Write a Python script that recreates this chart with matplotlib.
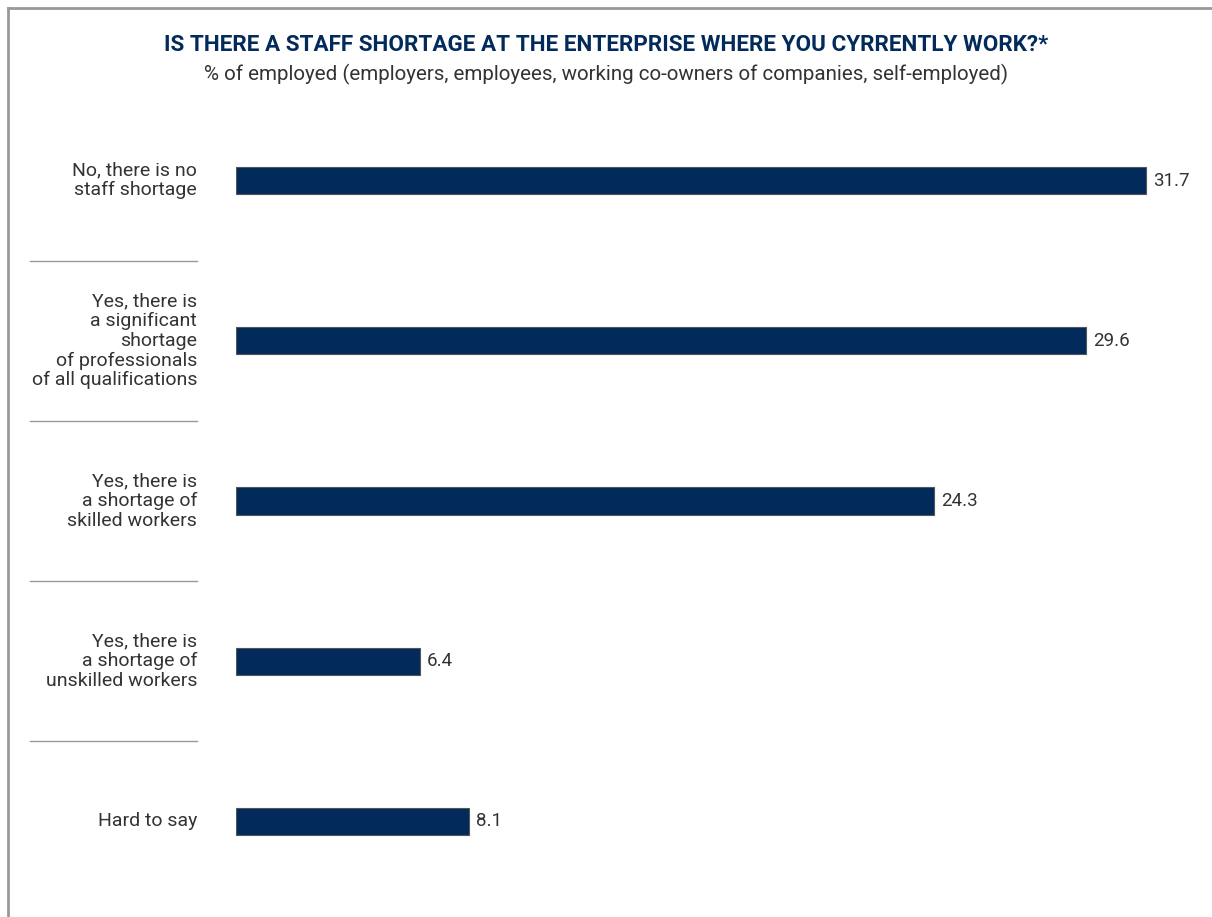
import matplotlib
matplotlib.use("Agg")
import matplotlib.pyplot as plt
from matplotlib import transforms

# survey answers, top to bottom
categories = [
    "No, there is no\nstaff shortage",
    "Yes, there is\na significant\nshortage\nof professionals\nof all qualifications",
    "Yes, there is\na shortage of\nskilled workers",
    "Yes, there is\na shortage of\nunskilled workers",
    "Hard to say",
]
values = [31.7, 29.6, 24.3, 6.4, 8.1]

title = "IS THERE A STAFF SHORTAGE AT THE ENTERPRISE WHERE YOU CYRRENTLY WORK?*"
subtitle = "% of employed (employers, employees, working co-owners of companies, self-employed)"

navy = "#022b5b"
text_col = "#333333"

plt.rcParams["font.family"] = ["Roboto", "DejaVu Sans"]

W, H = 1212, 917
fig = plt.figure(figsize=(W / 100, H / 100), dpi=100)

# plotting area: bars start at x=236 px, 1 unit ~ 28.7 px
left_px, right_px = 236, 1190
top_px, bot_px = 100.5, 901.5
ax = fig.add_axes([left_px / W, 1 - bot_px / H,
                   (right_px - left_px) / W, (bot_px - top_px) / H])
ax.set_xlim(0, (right_px - left_px) / 28.71)
ax.set_ylim(len(values) - 0.5, -0.5)

pos = list(range(len(values)))
ax.barh(pos, values, height=0.17, color=navy, edgecolor="#555555", linewidth=0.8)

for y, v in zip(pos, values):
    ax.text(v + 0.25, y, f"{v:.1f}", va="center", ha="left",
            fontsize=13.5, color=text_col)

# category labels and separators in figure-x / data-y
tr = transforms.blended_transform_factory(fig.transFigure, ax.transData)
for y, lab in zip(pos, categories):
    ax.text(197 / W, y, lab, transform=tr, ha="right", va="center",
            fontsize=14, color=text_col, linespacing=1.12, clip_on=False)
for y in pos[:-1]:
    ax.plot([30 / W, 197 / W], [y + 0.5, y + 0.5], transform=tr,
            color="#999999", linewidth=1, clip_on=False)

ax.axis("off")

# frame along top and left
fig.add_artist(plt.Line2D([8 / W, 8 / W], [0, 1 - 7.5 / H], color="#999999", linewidth=2))
fig.add_artist(plt.Line2D([8 / W, 1], [1 - 7.5 / H, 1 - 7.5 / H], color="#999999", linewidth=2))

fig.text(0.5, 1 - 45 / H, title, ha="center", va="center", fontsize=16.2,
         fontweight="bold", color=navy)
fig.text(0.5, 1 - 74 / H, subtitle, ha="center", va="center", fontsize=14.8,
         color=text_col)

fig.savefig("out.png", dpi=100)
